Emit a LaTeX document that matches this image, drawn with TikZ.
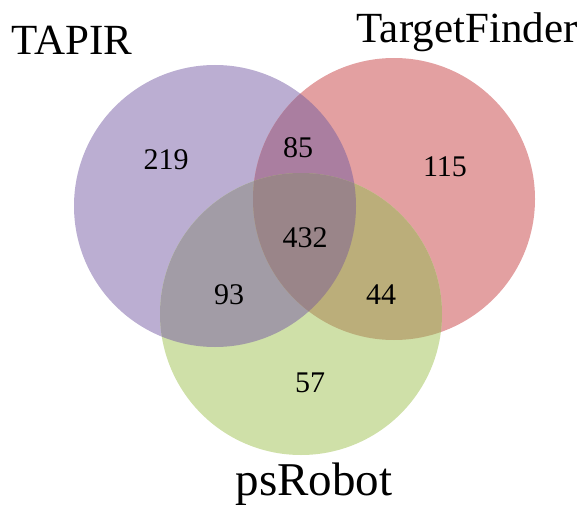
\documentclass[tikz,border=0pt]{standalone}
\usepackage{fontspec}
\setmainfont{Liberation Serif}
\definecolor{cP}{RGB}{187,174,210}
\definecolor{cR}{RGB}{227,160,161}
\definecolor{cG}{RGB}{207,224,168}
\definecolor{cPR}{RGB}{170,126,160}
\definecolor{cPG}{RGB}{162,156,166}
\definecolor{cRG}{RGB}{187,174,122}
\definecolor{cPRG}{RGB}{154,133,137}
\tikzset{
  setlabel/.style={inner sep=0pt, anchor=base, font=\fontsize{43}{50}\selectfont},
  count/.style={inner sep=0pt, font=\fontsize{30}{35}\selectfont}
}
\begin{document}
\begin{tikzpicture}[x=1pt,y=-1pt]
\useasboundingbox (0,0) rectangle (586,508);
\coordinate (P) at (215,206);
\coordinate (R) at (394,199);
\coordinate (G) at (301,314);
\def\rad{141}
% single sets
\fill[cP] (P) circle[radius=\rad];
\fill[cR] (R) circle[radius=\rad];
\fill[cG] (G) circle[radius=\rad];
% pairwise
\begin{scope}\clip (P) circle[radius=\rad]; \fill[cPR] (R) circle[radius=\rad];\end{scope}
\begin{scope}\clip (P) circle[radius=\rad]; \fill[cPG] (G) circle[radius=\rad];\end{scope}
\begin{scope}\clip (R) circle[radius=\rad]; \fill[cRG] (G) circle[radius=\rad];\end{scope}
% triple
\begin{scope}\clip (P) circle[radius=\rad]; \clip (R) circle[radius=\rad]; \fill[cPRG] (G) circle[radius=\rad];\end{scope}
% labels
\node[setlabel] (tapir) at (72,55) {TAPIR};
\node[setlabel] (tf) at (467,43) {TargetFinder};
\node[setlabel, font=\fontsize{47}{54}\selectfont] (ps) at (314,495) {psRobot};
% counts
\node[count] (n219) at (166,160) {219};
\node[count] (n85) at (298,148) {85};
\node[count] (n115) at (445,167) {115};
\node[count] (n432) at (305,238) {432};
\node[count] (n93) at (229,295) {93};
\node[count] (n44) at (381,295) {44};
\node[count] (n57) at (310,383) {57};
\end{tikzpicture}
\end{document}
